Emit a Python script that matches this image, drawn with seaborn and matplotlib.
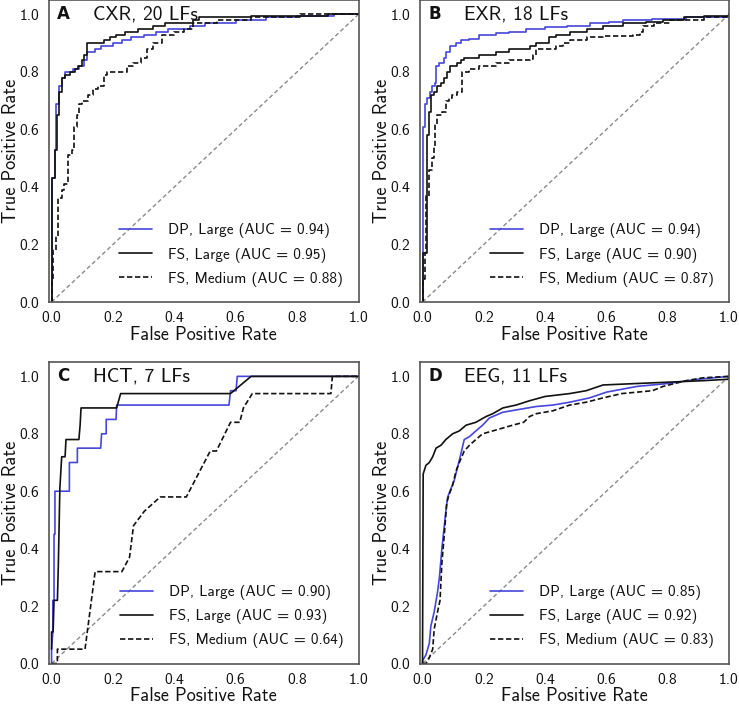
import numpy as np
import pandas as pd
import matplotlib
matplotlib.use("Agg")
import matplotlib.pyplot as plt
import seaborn as sns

# ---------------- data ----------------
panel_letters = ["A", "B", "C", "D"]
panel_titles = ["CXR, 20 LFs", "EXR, 18 LFs", "HCT, 7 LFs", "EEG, 11 LFs"]
series_names = ["DP, Large", "FS, Large", "FS, Medium"]

auc_A = [0.94, 0.95, 0.88]
auc_B = [0.94, 0.90, 0.87]
auc_C = [0.90, 0.93, 0.64]
auc_D = [0.85, 0.92, 0.83]

# Panel A (CXR)
A_dp_fpr = [0, 0.003, 0.01, 0.015, 0.025, 0.035, 0.045, 0.07, 0.09, 0.105, 0.115, 0.14, 0.16, 0.2, 0.23, 0.26, 0.3, 0.34, 0.38, 0.45, 0.5, 0.6, 0.7, 0.8, 0.92, 1.0]
A_dp_tpr = [0, 0.43, 0.53, 0.69, 0.75, 0.78, 0.80, 0.81, 0.82, 0.84, 0.87, 0.88, 0.89, 0.90, 0.91, 0.92, 0.93, 0.94, 0.95, 0.96, 0.97, 0.98, 0.99, 0.995, 1.0, 1.0]
A_fsl_fpr = [0, 0.0, 0.01, 0.018, 0.023, 0.035, 0.045, 0.06, 0.075, 0.085, 0.10, 0.105, 0.115, 0.17, 0.19, 0.21, 0.24, 0.28, 0.33, 0.37, 0.46, 0.48, 0.65, 0.9, 1.0]
A_fsl_tpr = [0, 0.43, 0.53, 0.65, 0.73, 0.78, 0.79, 0.80, 0.81, 0.82, 0.84, 0.86, 0.90, 0.91, 0.92, 0.93, 0.94, 0.95, 0.96, 0.97, 0.98, 0.99, 0.995, 1.0, 1.0]
A_fsm_fpr = [0, 0.0, 0.006, 0.014, 0.022, 0.033, 0.04, 0.055, 0.066, 0.072, 0.084, 0.09, 0.10, 0.12, 0.136, 0.152, 0.17, 0.18, 0.245, 0.265, 0.29, 0.31, 0.33, 0.36, 0.40, 0.43, 0.46, 0.54, 0.65, 0.81, 1.0]
A_fsm_tpr = [0, 0.08, 0.18, 0.23, 0.36, 0.39, 0.41, 0.51, 0.53, 0.61, 0.65, 0.69, 0.70, 0.72, 0.74, 0.75, 0.79, 0.80, 0.82, 0.83, 0.85, 0.88, 0.90, 0.93, 0.94, 0.95, 0.97, 0.98, 0.99, 1.0, 1.0]

# Panel B (EXR)
B_dp_fpr = [0, 0, 0.003, 0.009, 0.015, 0.024, 0.03, 0.04, 0.045, 0.055, 0.07, 0.077, 0.091, 0.108, 0.124, 0.152, 0.184, 0.24, 0.283, 0.338, 0.40, 0.47, 0.545, 0.61, 0.655, 0.75, 0.86, 1.0]
B_dp_tpr = [0, 0.19, 0.61, 0.69, 0.71, 0.73, 0.75, 0.76, 0.82, 0.83, 0.85, 0.87, 0.89, 0.90, 0.91, 0.915, 0.93, 0.935, 0.94, 0.95, 0.955, 0.96, 0.97, 0.975, 0.98, 0.985, 0.99, 1.0]
B_fsl_fpr = [0, 0.0, 0.003, 0.013, 0.015, 0.02, 0.026, 0.037, 0.048, 0.059, 0.07, 0.08, 0.091, 0.113, 0.125, 0.135, 0.184, 0.239, 0.283, 0.349, 0.37, 0.414, 0.436, 0.48, 0.535, 0.59, 0.655, 0.73, 0.786, 0.852, 0.918, 1.0]
B_fsl_tpr = [0, 0.08, 0.17, 0.37, 0.58, 0.66, 0.72, 0.73, 0.75, 0.76, 0.78, 0.80, 0.82, 0.83, 0.84, 0.85, 0.86, 0.87, 0.88, 0.89, 0.90, 0.92, 0.93, 0.94, 0.95, 0.96, 0.97, 0.975, 0.98, 0.99, 0.995, 1.0]
B_fsm_fpr = [0, 0.0, 0.007, 0.011, 0.02, 0.031, 0.037, 0.042, 0.048, 0.064, 0.075, 0.086, 0.097, 0.113, 0.13, 0.152, 0.184, 0.239, 0.283, 0.349, 0.36, 0.37, 0.436, 0.458, 0.48, 0.535, 0.59, 0.688, 0.71, 0.72, 0.754, 0.808, 0.918, 1.0]
B_fsm_tpr = [0, 0.08, 0.17, 0.37, 0.46, 0.50, 0.54, 0.62, 0.65, 0.66, 0.70, 0.71, 0.72, 0.73, 0.80, 0.81, 0.82, 0.83, 0.84, 0.845, 0.86, 0.88, 0.89, 0.90, 0.91, 0.92, 0.925, 0.93, 0.94, 0.96, 0.97, 0.98, 0.99, 1.0]

# Panel C (HCT)
C_dp_fpr = [0, 0, 0.004, 0.004, 0.008, 0.008, 0.011, 0.011, 0.058, 0.058, 0.084, 0.084, 0.16, 0.163, 0.178, 0.178, 0.21, 0.212, 0.578, 0.583, 0.601, 0.605, 1.0]
C_dp_tpr = [0, 0.05, 0.11, 0.22, 0.22, 0.45, 0.45, 0.60, 0.60, 0.70, 0.70, 0.75, 0.75, 0.80, 0.80, 0.85, 0.85, 0.90, 0.90, 0.95, 0.95, 1.0, 1.0]
C_fsl_fpr = [0, 0, 0.005, 0.008, 0.019, 0.022, 0.027, 0.033, 0.044, 0.047, 0.089, 0.093, 0.096, 0.212, 0.225, 0.583, 0.65, 1.0]
C_fsl_tpr = [0.05, 0.11, 0.11, 0.22, 0.22, 0.34, 0.61, 0.72, 0.72, 0.78, 0.78, 0.83, 0.89, 0.89, 0.94, 0.94, 1.0, 1.0]
C_fsm_fpr = [0, 0.019, 0.019, 0.109, 0.142, 0.229, 0.254, 0.267, 0.302, 0.354, 0.439, 0.517, 0.537, 0.583, 0.613, 0.625, 0.654, 0.91, 0.915, 1.0]
C_fsm_tpr = [0, 0.0, 0.05, 0.05, 0.32, 0.32, 0.37, 0.48, 0.53, 0.58, 0.58, 0.74, 0.74, 0.84, 0.84, 0.89, 0.94, 0.94, 1.0, 1.0]

# Panel D (EEG)
D_dp_fpr = [0, 0.0, 0.011, 0.022, 0.027, 0.038, 0.049, 0.055, 0.063, 0.071, 0.076, 0.082, 0.093, 0.104, 0.118, 0.125, 0.136, 0.153, 0.174, 0.196, 0.218, 0.262, 0.316, 0.371, 0.425, 0.48, 0.545, 0.6, 0.7, 0.8, 0.9, 1.0]
D_dp_tpr = [0, 0.01, 0.03, 0.07, 0.13, 0.18, 0.25, 0.30, 0.40, 0.48, 0.53, 0.58, 0.61, 0.64, 0.70, 0.73, 0.78, 0.79, 0.81, 0.83, 0.855, 0.875, 0.885, 0.895, 0.90, 0.91, 0.925, 0.945, 0.965, 0.975, 0.99, 1.0]
D_fsl_fpr = [0, 0, 0.002, 0.011, 0.022, 0.033, 0.044, 0.06, 0.076, 0.098, 0.12, 0.142, 0.174, 0.207, 0.229, 0.262, 0.305, 0.349, 0.40, 0.48, 0.534, 0.589, 0.698, 0.807, 0.916, 1.0, 1.0]
D_fsl_tpr = [0, 0.066, 0.66, 0.69, 0.70, 0.72, 0.75, 0.76, 0.78, 0.80, 0.81, 0.83, 0.84, 0.86, 0.87, 0.89, 0.90, 0.915, 0.93, 0.94, 0.95, 0.97, 0.975, 0.98, 0.985, 0.99, 1.0]
D_fsm_fpr = [0, 0.011, 0.022, 0.033, 0.038, 0.049, 0.057, 0.063, 0.071, 0.079, 0.087, 0.098, 0.109, 0.12, 0.136, 0.153, 0.174, 0.196, 0.229, 0.262, 0.294, 0.33, 0.349, 0.371, 0.425, 0.48, 0.534, 0.589, 0.65, 0.75, 0.785, 0.86, 0.916, 1.0]
D_fsm_tpr = [0, 0.0, 0.02, 0.05, 0.12, 0.18, 0.22, 0.35, 0.45, 0.56, 0.59, 0.62, 0.67, 0.70, 0.74, 0.76, 0.78, 0.80, 0.81, 0.82, 0.83, 0.84, 0.86, 0.87, 0.88, 0.90, 0.91, 0.925, 0.94, 0.95, 0.965, 0.985, 0.995, 1.0]

tick_values = [0.0, 0.2, 0.4, 0.6, 0.8, 1.0]
tick_labels = ["0.0", "0.2", "0.4", "0.6", "0.8", "1.0"]

panels = [
    (auc_A, [(A_dp_fpr, A_dp_tpr), (A_fsl_fpr, A_fsl_tpr), (A_fsm_fpr, A_fsm_tpr)], "steps-post"),
    (auc_B, [(B_dp_fpr, B_dp_tpr), (B_fsl_fpr, B_fsl_tpr), (B_fsm_fpr, B_fsm_tpr)], "steps-post"),
    (auc_C, [(C_dp_fpr, C_dp_tpr), (C_fsl_fpr, C_fsl_tpr), (C_fsm_fpr, C_fsm_tpr)], "default"),
    (auc_D, [(D_dp_fpr, D_dp_tpr), (D_fsl_fpr, D_fsl_tpr), (D_fsm_fpr, D_fsm_tpr)], "default"),
]

# ---------------- style ----------------
sns.set_theme(style="white")
plt.rcParams["font.family"] = ["cmss10", "DejaVu Sans"]
plt.rcParams["axes.formatter.use_mathtext"] = True
plt.rcParams["axes.unicode_minus"] = False

line_colors = ["#4646dc", "#111111", "#111111"]
line_styles = ["-", "-", "--"]

fig = plt.figure(figsize=(7.39, 7.04), dpi=100)
W, H = 739.0, 704.0
boxes = [
    (48.5, 0.0, 310.0, 302.0),
    (419.5, 0.0, 309.5, 302.0),
    (48.5, 362.0, 310.0, 301.5),
    (419.5, 362.0, 309.5, 301.5),
]

for i, (aucs, curves, dstyle) in enumerate(panels):
    x0, ytop, w, h = boxes[i]
    ax = fig.add_axes([x0 / W, 1 - (ytop + h) / H, w / W, h / H])
    # chance line
    sns.lineplot(x=[0, 1], y=[0, 1], ax=ax, color="#8a8a8a", linestyle="--",
                 linewidth=1.0, sort=False, estimator=None, dashes=False)
    ax.lines[-1].set_dashes([3, 2])
    for j, (fx, ty) in enumerate(curves):
        lbl = f"{series_names[j]} (AUC = {aucs[j]:.2f})"
        sns.lineplot(x=fx, y=ty, ax=ax, color=line_colors[j], linewidth=1.2,
                     sort=False, estimator=None, label=lbl, drawstyle=dstyle)
        if line_styles[j] == "--":
            ax.lines[-1].set_linestyle("--")
            ax.lines[-1].set_dashes([3.2, 1.6])
    ax.set_xlim(-0.01, 1.0)
    ax.set_ylim(0.0, 1.05)
    ax.set_xticks(tick_values)
    ax.set_xticklabels(tick_labels)
    ax.set_yticks(tick_values)
    ax.set_yticklabels(tick_labels)
    ax.tick_params(length=0, labelsize=11.2, pad=6.5, colors="#111111")
    ax.set_xlabel("False Positive Rate", fontsize=13.2, labelpad=0.5, color="#111111")
    ax.set_ylabel("True Positive Rate", fontsize=13.2, labelpad=0, color="#111111")
    for sp in ax.spines.values():
        sp.set_color("#555555")
        sp.set_linewidth(1.2)
    ax.text(0.018, 1.0, panel_letters[i], fontsize=12, fontweight="bold",
            family="DejaVu Sans", va="center", ha="left", color="#111111")
    ax.text(0.135, 1.0, panel_titles[i], fontsize=14, va="center", ha="left",
            color="#111111")
    leg = ax.legend(loc="lower right", frameon=False, fontsize=11,
                    handlelength=2.15, handletextpad=1.05, labelspacing=0.6,
                    borderaxespad=0.6)
    for t in leg.get_texts():
        t.set_color("#111111")

fig.savefig("out.png", dpi=100)
